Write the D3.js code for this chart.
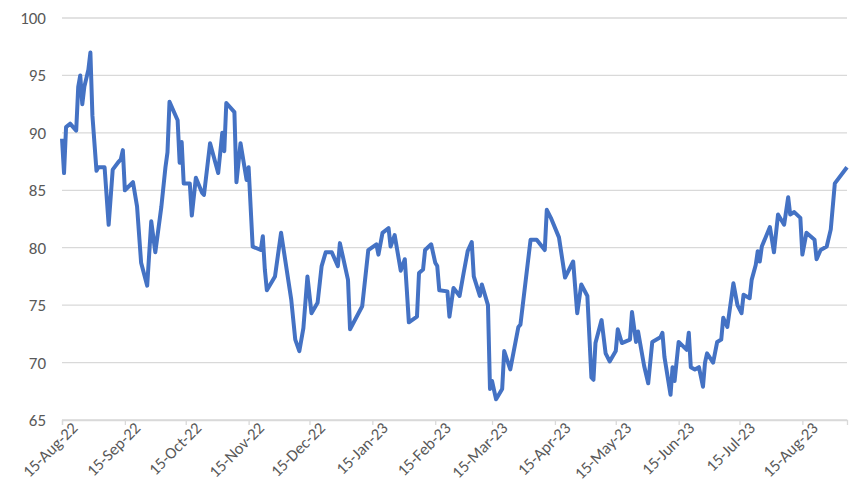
<!DOCTYPE html>
<html>
<head>
<meta charset="utf-8">
<script src="https://cdn.jsdelivr.net/npm/d3@7"></script>
<style>
  body { margin: 0; background: #fff; }
  text { font-family: Calibri, "Liberation Sans", "DejaVu Sans", sans-serif; fill: #595959; }
</style>
</head>
<body>
<svg id="chart"></svg>
<script>
// days after 15-Aug-22
const dayOffsets = [0,1,2,4,7,8,9,10,11,13,14,15,17,18,21,23,25,28,29,30,31,35,37,39,42,44,46,49,51,52,53,57,58,59,60,63,64,66,69,70,73,77,79,80,81,85,86,88,91,92,94,98,99,100,101,105,108,113,115,117,119,121,123,126,128,130,133,136,137,141,142,148,151,155,156,158,161,162,164,167,169,170,171,175,176,178,179,182,184,185,186,190,191,193,196,198,200,202,203,206,207,210,211,212,214,217,218,221,225,226,231,234,238,239,241,245,248,252,254,256,259,261,262,263,266,268,270,273,274,276,280,281,283,284,287,289,291,295,296,297,300,301,302,304,308,309,310,312,314,316,317,318,321,323,325,326,328,331,333,335,336,339,340,342,343,344,345,349,351,353,356,358,359,361,364,365,367,371,372,374,377,379,381,387];
const values = [89.5,86.5,90.5,90.8,90.2,94,95,92.5,94,95.5,97,91.5,86.7,87,87,82,86.8,87.5,87.7,88.5,85,85.7,83.6,78.7,76.7,82.3,79.6,83.6,87,88.3,92.7,91.1,87.4,89.2,85.6,85.6,82.8,86.1,84.8,84.6,89.1,86.5,90,88.4,92.6,91.8,85.7,89.1,85.9,87,80.1,79.8,81,78.1,76.3,77.5,81.3,75.5,72,71,73,77.5,74.3,75.2,78.4,79.6,79.6,78.4,80.4,77.2,72.9,74.9,79.8,80.3,79.4,81.3,81.7,80.1,81.1,78,79,76.3,73.5,74,77.8,78.1,79.8,80.3,78.7,78.4,76.3,76.2,74,76.5,75.8,77.8,79.7,80.5,77.5,75.8,76.8,75,67.7,68.4,66.8,67.7,71,69.4,73.1,73.3,80.7,80.7,79.8,83.3,82.6,80.9,77.4,78.8,74.3,76.8,75.8,68.7,68.5,71.7,73.7,70.8,70.1,71,72.9,71.7,72,74.4,71.8,72.7,69.7,68.2,71.8,72.2,72.6,70.5,67.2,69.6,68.4,71.8,71.1,72.6,69.6,69.4,69.6,67.9,70,70.8,70,71.8,72,73.9,73.1,76.9,75,74.3,75.9,75.6,77.2,78.5,79.7,78.8,80.1,81.8,79.6,82.9,82,84.4,82.9,83.1,82.6,79.4,81.3,80.7,79,79.8,80.1,81.6,85.6,87];
const yTicks = [65,70,75,80,85,90,95,100];
const xTickLabels = ["15-Aug-22","15-Sep-22","15-Oct-22","15-Nov-22","15-Dec-22","15-Jan-23","15-Feb-23","15-Mar-23","15-Apr-23","15-May-23","15-Jun-23","15-Jul-23","15-Aug-23"];

const width = 850, height = 504;
const margin = { top: 18, right: 3, bottom: 84, left: 62 };

const parse = d3.timeParse("%d-%b-%y");
const start = parse("15-Aug-22");
const data = dayOffsets.map((d, i) => ({ date: d3.timeDay.offset(start, d), value: values[i] }));

const svg = d3.select("#chart").attr("width", width).attr("height", height);

const x = d3.scaleTime()
    .domain([start, d3.timeDay.offset(start, 387)])
    .range([margin.left, width - margin.right]);
const y = d3.scaleLinear()
    .domain([65, 100])
    .range([height - margin.bottom, margin.top]);

// gridlines
svg.append("g")
    .selectAll("line")
    .data(yTicks)
    .join("line")
    .attr("x1", margin.left).attr("x2", width - margin.right)
    .attr("y1", d => y(d)).attr("y2", d => y(d))
    .attr("stroke", "#d9d9d9").attr("stroke-width", 1.3);

// y labels
svg.append("g")
    .selectAll("text")
    .data(yTicks)
    .join("text")
    .attr("x", 46).attr("y", d => y(d))
    .attr("dy", "0.35em")
    .attr("text-anchor", "end")
    .style("font-size", "17px")
    .text(d => d);

// x axis
const xg = svg.append("g")
    .attr("transform", `translate(0,${y(65)})`)
    .call(d3.axisBottom(x).tickValues(xTickLabels.map(parse)).tickSize(5).tickFormat(d3.timeFormat("%d-%b-%y")));
xg.select(".domain").attr("stroke", "#d9d9d9").attr("stroke-width", 1.3);
xg.selectAll(".tick line").attr("stroke", "#d9d9d9").attr("stroke-width", 1.3);
xg.selectAll(".tick text")
    .attr("fill", "#595959")
    .style("font-size", "16.5px")
    .attr("text-anchor", "end")
    .attr("dx", "0.3em")
    .attr("dy", "0.6em")
    .attr("transform", "rotate(-45)");

// line
svg.append("path")
    .datum(data)
    .attr("fill", "none")
    .attr("stroke", "#4472c4")
    .attr("stroke-width", 4)
    .attr("stroke-linejoin", "round")
    .attr("d", d3.line().x(d => x(d.date)).y(d => y(d.value)));
</script>
</body>
</html>
